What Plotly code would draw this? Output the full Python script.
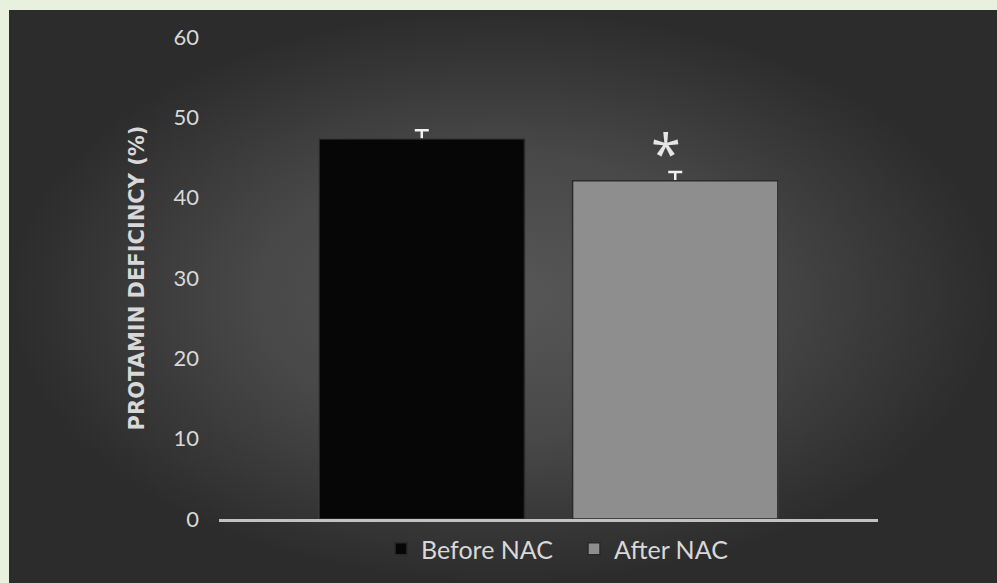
import plotly.graph_objects as go

# ---- data ----
groups = ["Before NAC", "After NAC"]
values = [47.3, 42.1]
errors = [1.1, 1.1]
bar_colors = ["#060606", "#8e8e8e"]
y_ticks = [0, 10, 20, 30, 40, 50, 60]
y_title = "PROTAMIN DEFICINCY (%)"
signif = ["", "*"]

W, H = 997, 583
FONT = "Lato"
TXT = "#d8d8d8"
BG = "#e8f1de"

fig = go.Figure()

# background panel with radial gradient (decoration, on full-paper axes)
fig.add_trace(go.Scatter(
    x=[9, W, W, 9, 9], y=[0, 0, H - 10, H - 10, 0],
    mode="lines", line=dict(width=0), fill="toself",
    fillgradient=dict(type="radial",
                      colorscale=[[0, "#575757"], [0.5, "#484848"], [1, "#2c2c2c"]]),
    hoverinfo="skip", showlegend=False, xaxis="x", yaxis="y"))

# error whiskers drawn first so the bars hide their lower half
for g, v, e in zip(groups, values, errors):
    fig.add_trace(go.Bar(
        x=[g], y=[v], width=0.81, showlegend=False, hoverinfo="skip",
        marker=dict(color="rgba(0,0,0,0)"),
        error_y=dict(type="data", array=[e], color="#f2f2f2", thickness=2.5, width=7),
        xaxis="x2", yaxis="y2"))

for g, v, c in zip(groups, values, bar_colors):
    fig.add_trace(go.Bar(
        x=[g], y=[v], name=g, width=0.81,
        marker=dict(color=c, line=dict(color="#2a2a2a", width=1.5)),
        xaxis="x2", yaxis="y2"))

for g, v, e, s in zip(groups, values, errors, signif):
    if s:
        fig.add_annotation(x=g, y=v + e, xref="x2", yref="y2", text=s,
                           showarrow=False, yanchor="bottom", yshift=-20, xshift=-9,
                           font=dict(family="Open Sans", size=54, color="#e6e6e6"))

fig.update_layout(
    width=W, height=H,
    margin=dict(l=0, r=0, t=0, b=0),
    paper_bgcolor=BG, plot_bgcolor="rgba(0,0,0,0)",
    barmode="overlay",
    font=dict(family=FONT, color=TXT),
    xaxis=dict(domain=[0, 1], range=[0, W], visible=False, fixedrange=True),
    yaxis=dict(domain=[0, 1], range=[0, H], visible=False, fixedrange=True),
    xaxis2=dict(domain=[219 / W, 878 / W], anchor="y2", range=[-0.8, 1.8],
                type="category", categoryorder="array", categoryarray=groups,
                showticklabels=False, ticks="", showgrid=False, zeroline=False,
                showline=True, linecolor="#c2c2c2", linewidth=2.5, automargin=False),
    yaxis2=dict(domain=[(H - 519) / H, (H - 37) / H], anchor="x2", range=[0, 60],
                tickvals=y_ticks, showgrid=False, zeroline=False, showline=False,
                ticks="", ticklabelstandoff=19, automargin=False,
                tickfont=dict(family=FONT, size=22, color=TXT),
                title=dict(text="<b>" + y_title + "</b>", standoff=23,
                           font=dict(family="DejaVu Sans", size=21, color=TXT))),
    legend=dict(orientation="h", x=381 / W, xanchor="left", y=(H - 549) / H,
                yanchor="middle", font=dict(family=FONT, size=25, color=TXT),
                bgcolor="rgba(0,0,0,0)", itemwidth=30, entrywidth=148,
                traceorder="normal"),
)

fig.write_html("out.html", config={"displayModeBar": False}, post_script=(
    "document.body.style.margin='0';"
    "document.body.style.background='" + BG + "';"
    "document.body.style.overflow='hidden';"))
